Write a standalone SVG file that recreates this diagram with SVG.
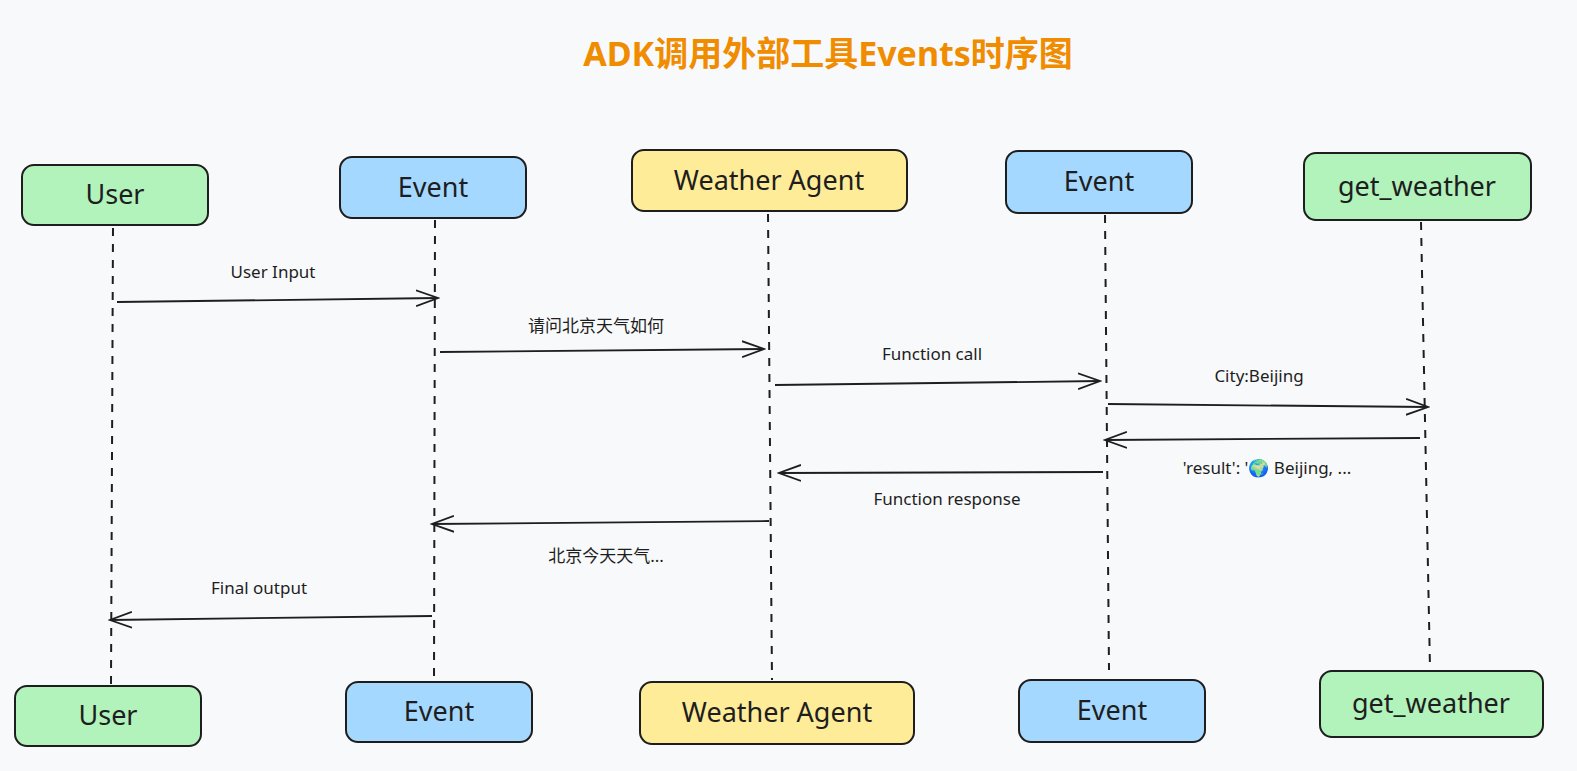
<svg xmlns="http://www.w3.org/2000/svg" width="1577" height="771" viewBox="0 0 1577 771">
<style>
text{font-family:"Noto Sans","Noto Sans CJK SC",sans-serif;fill:#1e1e1e;text-anchor:middle}
.n{font-size:27px}
.l{font-size:17px}
.g{fill:#b2f2bb}.b{fill:#a5d8ff}.y{fill:#ffec99}
.nd{stroke:#1e1e1e;stroke-width:2}
.ll{stroke:#1e1e1e;stroke-width:2;stroke-dasharray:8 8;fill:none}
.m{stroke:#1e1e1e;stroke-width:1.8;fill:none;marker-end:url(#a)}
</style>
<defs><marker id="a" markerWidth="24" markerHeight="20" refX="22" refY="10" orient="auto" markerUnits="userSpaceOnUse"><path d="M0,2 L22,10 L0,18" fill="none" stroke="#1e1e1e" stroke-width="1.8"/></marker></defs>
<rect width="1577" height="771" fill="#f8f9fb"/>
<text x="828" y="66" style="font-size:34px;fill:#f08c00;font-weight:bold">ADK调用外部工具Events时序图</text>
<g id="lifelines">
<line class="ll" x1="113" y1="228" x2="111" y2="684"/>
<line class="ll" x1="435" y1="220" x2="434" y2="680"/>
<line class="ll" x1="768" y1="214" x2="772" y2="680"/>
<line class="ll" x1="1105" y1="215" x2="1109" y2="670"/>
<line class="ll" x1="1421" y1="222" x2="1430" y2="668"/>
</g>
<g id="connectors">
<path class="m" d="M117,302 L438,298"/><text class="l" x="273" y="278">User Input</text>
<path class="m" d="M440,352 L764,349"/><text class="l" x="596" y="332">请问北京天气如何</text>
<path class="m" d="M775,385 L1100,381"/><text class="l" x="932" y="360">Function call</text>
<path class="m" d="M1108,404 L1428,407"/><text class="l" x="1259" y="382">City:Beijing</text>
<path class="m" d="M1420,438 L1105,440"/><text class="l" x="1267" y="474">'result': '🌍 Beijing, ...</text>
<path class="m" d="M1103,472 L779,473"/><text class="l" x="947" y="505">Function response</text>
<path class="m" d="M769,521 L432,524"/><text class="l" x="606" y="562">北京今天天气...</text>
<path class="m" d="M432,616 L110,620"/><text class="l" x="259" y="594">Final output</text>
</g>
<g id="user-top"><rect class="nd g" x="22" y="165" width="186" height="60" rx="12"/><text class="n" x="115" y="204">User</text></g>
<g id="event1-top"><rect class="nd b" x="340" y="157" width="186" height="61" rx="12"/><text class="n" x="433" y="197">Event</text></g>
<g id="agent-top"><rect class="nd y" x="632" y="150" width="275" height="61" rx="12"/><text class="n" x="769" y="190">Weather Agent</text></g>
<g id="event2-top"><rect class="nd b" x="1006" y="151" width="186" height="62" rx="12"/><text class="n" x="1099" y="191">Event</text></g>
<g id="tool-top"><rect class="nd g" x="1304" y="153" width="227" height="67" rx="12"/><text class="n" x="1417" y="196">get_weather</text></g>
<g id="user-bottom"><rect class="nd g" x="15" y="686" width="186" height="60" rx="12"/><text class="n" x="108" y="725">User</text></g>
<g id="event1-bottom"><rect class="nd b" x="346" y="682" width="186" height="60" rx="12"/><text class="n" x="439" y="721">Event</text></g>
<g id="agent-bottom"><rect class="nd y" x="640" y="682" width="274" height="62" rx="12"/><text class="n" x="777" y="722">Weather Agent</text></g>
<g id="event2-bottom"><rect class="nd b" x="1019" y="680" width="186" height="62" rx="12"/><text class="n" x="1112" y="720">Event</text></g>
<g id="tool-bottom"><rect class="nd g" x="1320" y="671" width="223" height="66" rx="12"/><text class="n" x="1431" y="713">get_weather</text></g>
</svg>
